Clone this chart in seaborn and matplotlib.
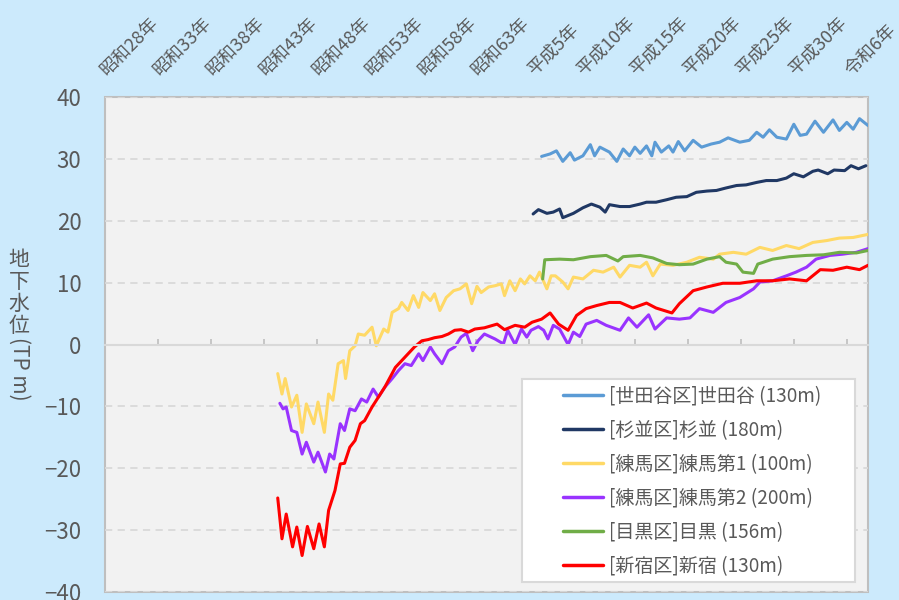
import matplotlib
matplotlib.use("Agg")
import matplotlib.pyplot as plt
import matplotlib.transforms as mtransforms
from matplotlib.patches import Rectangle
import seaborn as sns
import pandas as pd

# groundwater level per well: (year, TP m)
setagaya = [(1994.2, 30.4), (1995.0, 30.8), (1995.6, 31.3), (1996.2, 29.6), (1996.9, 31.0),
            (1997.3, 29.8), (1998.1, 30.5), (1998.8, 32.3), (1999.2, 30.5), (1999.7, 31.9),
            (2000.6, 31.1), (2001.3, 29.6), (2001.9, 31.6), (2002.5, 30.5), (2003.0, 31.9),
            (2003.5, 30.9), (2004.1, 32.1), (2004.6, 30.5), (2004.9, 32.7), (2005.5, 31.1),
            (2006.2, 32.1), (2006.6, 31.1), (2007.1, 32.8), (2007.7, 31.3), (2008.5, 33.0),
            (2009.3, 31.9), (2010.2, 32.4), (2011.0, 32.7), (2011.8, 33.4), (2012.9, 32.7),
            (2013.8, 33.0), (2014.5, 34.3), (2015.1, 33.5), (2015.7, 34.7), (2016.4, 33.5),
            (2017.3, 33.2), (2018.0, 35.6), (2018.6, 33.8), (2019.2, 34.0), (2020.0, 36.1),
            (2020.8, 34.3), (2021.7, 36.3), (2022.3, 34.6), (2023.0, 35.9), (2023.6, 34.8),
            (2024.2, 36.5), (2025.0, 35.4)]

suginami = [(1993.4, 21.1), (1993.9, 21.8), (1994.7, 21.2), (1995.3, 21.4), (1995.9, 21.9),
            (1996.2, 20.5), (1997.2, 21.2), (1998.1, 22.1), (1998.9, 22.7), (1999.7, 22.2),
            (2000.2, 21.4), (2000.6, 22.6), (2001.6, 22.3), (2002.5, 22.3), (2003.5, 22.7),
            (2004.1, 23.0), (2005.0, 23.0), (2006.0, 23.4), (2006.9, 23.8), (2007.9, 23.9),
            (2008.8, 24.6), (2009.8, 24.8), (2010.7, 24.9), (2011.6, 25.3), (2012.6, 25.7),
            (2013.5, 25.8), (2014.5, 26.2), (2015.4, 26.5), (2016.4, 26.5), (2017.3, 26.9),
            (2018.0, 27.6), (2018.9, 27.1), (2019.8, 28.0), (2020.3, 28.2), (2021.2, 27.6),
            (2021.8, 28.2), (2022.8, 28.1), (2023.4, 28.9), (2024.1, 28.4), (2024.8, 28.9)]

nerima1 = [(1969.3, -4.7), (1969.7, -8.0), (1970.0, -5.5), (1970.6, -10.1), (1971.1, -8.2),
           (1971.6, -14.2), (1972.0, -9.6), (1972.7, -12.8), (1973.1, -9.3), (1973.7, -14.2),
           (1974.1, -8.0), (1974.5, -9.0), (1975.0, -3.1), (1975.5, -2.6), (1975.7, -5.5),
           (1976.1, -1.0), (1976.6, -0.2), (1976.9, 1.7), (1977.5, 1.5), (1978.2, 2.8),
           (1978.6, -0.2), (1979.3, 2.5), (1979.7, 2.0), (1980.1, 5.2), (1980.7, 5.8),
           (1981.0, 6.8), (1981.6, 5.5), (1982.1, 7.9), (1982.6, 6.0), (1983.0, 8.4),
           (1983.7, 7.1), (1984.1, 8.2), (1984.6, 5.5), (1985.2, 7.6), (1985.9, 8.7),
           (1986.5, 9.0), (1987.1, 9.8), (1987.6, 6.6), (1988.1, 9.4), (1988.5, 8.4),
           (1989.2, 9.3), (1989.8, 9.5), (1990.4, 9.8), (1990.7, 7.9), (1991.2, 10.3),
           (1991.7, 8.7), (1992.2, 10.6), (1992.6, 9.8), (1993.1, 11.1), (1993.6, 10.3),
           (1994.0, 11.7), (1994.7, 9.0), (1995.1, 11.1), (1995.5, 11.1), (1996.2, 10.1),
           (1996.7, 9.0), (1997.2, 10.9), (1998.1, 10.6), (1999.1, 12.0), (2000.0, 11.7),
           (2001.0, 12.5), (2001.6, 10.9), (2002.5, 12.8), (2003.5, 12.5), (2004.1, 13.3),
           (2004.7, 11.1), (2005.4, 13.0), (2006.6, 12.8), (2007.9, 13.3), (2009.1, 14.1),
           (2010.4, 13.8), (2011.0, 14.6), (2012.3, 14.9), (2013.5, 14.6), (2014.8, 15.7),
           (2016.0, 15.2), (2017.3, 16.0), (2018.5, 15.5), (2019.8, 16.5), (2021.1, 16.8),
           (2022.3, 17.2), (2023.6, 17.3), (2025.0, 17.8)]

nerima2 = [(1969.5, -9.5), (1969.8, -10.4), (1970.1, -10.1), (1970.6, -13.9), (1971.1, -14.2),
           (1971.6, -17.7), (1972.0, -15.8), (1972.7, -19.0), (1973.1, -17.4), (1973.8, -20.6),
           (1974.2, -17.7), (1974.6, -18.5), (1975.2, -12.8), (1975.6, -13.9), (1976.1, -10.4),
           (1976.6, -10.7), (1977.2, -8.8), (1977.7, -9.3), (1978.3, -7.2), (1978.8, -8.5),
           (1979.4, -6.9), (1980.1, -5.5), (1980.7, -4.2), (1981.3, -3.1), (1981.9, -3.4),
           (1982.6, -1.5), (1983.0, -2.6), (1983.7, -0.4), (1984.1, -1.5), (1984.8, -3.1),
           (1985.4, -1.0), (1986.0, -0.4), (1986.6, 1.2), (1987.1, 1.8), (1987.7, -1.0),
           (1988.2, 0.6), (1988.8, 1.7), (1989.8, 0.9), (1990.6, 0.1), (1991.0, 2.3),
           (1991.7, 0.0), (1992.3, 2.5), (1992.8, 1.2), (1993.2, 2.3), (1993.9, 2.9),
           (1994.4, 2.3), (1994.8, 0.9), (1995.3, 3.1), (1995.9, 2.5), (1996.7, 0.0),
           (1997.2, 2.0), (1997.8, 1.3), (1998.4, 3.3), (1999.4, 3.9), (2000.3, 3.1),
           (2001.6, 2.3), (2002.4, 4.3), (2003.2, 2.8), (2004.3, 4.8), (2004.9, 2.5),
           (2006.0, 4.3), (2007.2, 4.1), (2008.2, 4.3), (2009.1, 5.8), (2010.4, 5.2),
           (2011.6, 6.8), (2012.9, 7.6), (2014.2, 9.0), (2014.8, 10.1), (2016.0, 10.3),
           (2017.3, 11.1), (2018.2, 11.7), (2019.2, 12.5), (2020.1, 13.8), (2021.4, 14.4),
           (2022.6, 14.6), (2023.9, 14.9), (2025.0, 15.5)]

meguro = [(1994.3, 10.6), (1994.5, 13.7), (1995.9, 13.8), (1997.2, 13.7), (1998.8, 14.2),
          (2000.3, 14.4), (2001.4, 13.5), (2001.9, 14.2), (2003.5, 14.4), (2004.7, 14.0),
          (2006.0, 13.1), (2007.2, 12.9), (2008.5, 13.0), (2009.8, 13.8), (2011.0, 14.2),
          (2011.6, 13.3), (2012.6, 13.0), (2013.2, 11.7), (2014.2, 11.5), (2014.6, 13.0),
          (2016.0, 13.8), (2017.6, 14.2), (2019.2, 14.4), (2020.8, 14.5), (2022.3, 14.9),
          (2023.9, 14.8), (2025.0, 15.2)]

shinjuku = [(1969.3, -24.8), (1969.7, -31.4), (1970.1, -27.4), (1970.7, -32.7), (1971.1, -29.5),
            (1971.6, -34.1), (1972.1, -29.4), (1972.7, -33.0), (1973.2, -29.0), (1973.7, -32.7),
            (1974.1, -26.8), (1974.7, -23.6), (1975.2, -19.3), (1975.6, -19.2), (1976.1, -16.6),
            (1976.6, -15.5), (1977.1, -12.8), (1977.5, -12.3), (1978.2, -10.1), (1978.8, -8.5),
            (1979.4, -6.9), (1979.9, -5.3), (1980.4, -3.7), (1981.0, -2.6), (1981.6, -1.5),
            (1982.2, -0.4), (1982.9, 0.6), (1983.5, 0.8), (1984.1, 1.1), (1984.8, 1.3),
            (1985.4, 1.7), (1986.0, 2.3), (1986.6, 2.4), (1987.3, 2.0), (1987.9, 2.5),
            (1988.8, 2.7), (1990.0, 3.3), (1990.7, 2.4), (1991.7, 3.1), (1992.6, 2.8),
            (1993.3, 3.6), (1994.2, 4.1), (1995.0, 5.1), (1995.8, 3.3), (1996.7, 2.3),
            (1997.5, 4.7), (1998.4, 5.8), (1999.4, 6.3), (2000.6, 6.8), (2001.6, 6.8),
            (2002.8, 5.9), (2004.1, 6.7), (2005.0, 5.9), (2006.5, 5.1), (2007.2, 6.6),
            (2008.5, 8.7), (2009.8, 9.3), (2011.3, 9.9), (2012.9, 9.9), (2014.5, 10.3),
            (2016.0, 10.3), (2017.6, 10.6), (2019.2, 10.3), (2020.5, 12.1), (2021.7, 12.0),
            (2023.0, 12.5), (2024.2, 12.1), (2025.0, 12.8)]

series_names = ["[世田谷区]世田谷 (130m)", "[杉並区]杉並 (180m)", "[練馬区]練馬第1 (100m)",
                "[練馬区]練馬第2 (200m)", "[目黒区]目黒 (156m)", "[新宿区]新宿 (130m)"]
series_data = [setagaya, suginami, nerima1, nerima2, meguro, shinjuku]
series_colors = ["#5b9bd5", "#203864", "#ffd966", "#9933ff", "#70ad47", "#ff0000"]

tick_years = list(range(1953, 2024, 5))
era_labels = ["昭和28年", "昭和33年", "昭和38年", "昭和43年", "昭和48年", "昭和53年",
              "昭和58年", "昭和63年", "平成5年", "平成10年", "平成15年", "平成20年",
              "平成25年", "平成30年", "令和6年"]
y_ticks = [40, 30, 20, 10, 0, -10, -20, -30, -40]

BG = "#cceafc"
TEXT = "#595959"

sns.set_theme(style="white")
plt.rcParams["font.family"] = ["Noto Sans CJK JP", "DejaVu Sans"]

# long-form table for seaborn
frames = []
for name, pts in zip(series_names, series_data):
    d = pd.DataFrame(pts, columns=["year", "level"])
    d["series"] = name
    frames.append(d)
df = pd.concat(frames, ignore_index=True)

fig = plt.figure(figsize=(8.99, 6.0), dpi=100, facecolor=BG)
ax = fig.add_axes([0.1168, 0.0133, 0.8487, 0.825])
ax.set_facecolor("#f2f2f2")
ax.patch.set_edgecolor("#bfbfbf")
ax.patch.set_linewidth(1.5)

sns.lineplot(data=df, x="year", y="level", hue="series", hue_order=series_names,
             palette=dict(zip(series_names, series_colors)), estimator=None,
             linewidth=2.2, ax=ax)

ax.set_xlim(1953, 2025)
ax.set_ylim(-40, 40)
ax.set_xlabel("")
ax.set_ylabel("")

# gridlines and the zero axis line
ax.set_axisbelow(True)
ax.yaxis.grid(True, linestyle=(0, (4, 3)), color="#d9d9d9", linewidth=1.3)
ax.xaxis.grid(False)
for side in ["top", "right", "left"]:
    ax.spines[side].set_visible(False)
ax.spines["bottom"].set_position(("data", 0))
ax.spines["bottom"].set_color("#d9d9d9")
ax.spines["bottom"].set_linewidth(1.5)

ax.set_yticks(y_ticks)
ax.tick_params(axis="y", length=0, pad=17, labelsize=16, labelcolor=TEXT)

# tick marks on zero line, era labels on top between the marks
ax.set_xticks(tick_years)
ax.set_xticks([t + 2 for t in tick_years], labels=era_labels, minor=True)
ax.tick_params(axis="x", which="major", bottom=True, top=False, labelbottom=False,
               labeltop=False, direction="in", length=4, width=1.2, color="#bfbfbf")
ax.tick_params(axis="x", which="minor", bottom=False, top=False, labelbottom=False,
               labeltop=True, labelrotation=45, pad=9, labelsize=13, labelcolor=TEXT)
shift = mtransforms.ScaledTranslation(0.03, 0, fig.dpi_scale_trans)
for lbl in ax.xaxis.get_minorticklabels():
    lbl.set_transform(lbl.get_transform() + shift)

# legend on a white box
leg = ax.get_legend()
handles = leg.legend_handles
labels = [t.get_text() for t in leg.get_texts()]
leg.remove()
for h in handles:
    h.set_linewidth(2.5)
box = Rectangle((0.5465, 0.0202), 0.4365, 0.410, transform=ax.transAxes,
                facecolor="white", edgecolor="#d9d9d9", linewidth=1.5, zorder=5)
ax.add_patch(box)
new_leg = ax.legend(handles, labels, loc="upper left", bbox_to_anchor=(0.600, 0.416),
                    frameon=False, borderpad=0, borderaxespad=0, fontsize=13.7,
                    handlelength=2.1, handletextpad=0.32, labelspacing=0.68,
                    labelcolor=TEXT)
new_leg.set_zorder(6)

# stacked vertical axis title
fig.text(0.021, 0.585, "地\n下\n水\n位", ha="center", va="top", fontsize=15,
         color=TEXT, linespacing=1.0)
fig.text(0.021, 0.385, "(TP m)", ha="center", va="center", rotation=-90,
         fontsize=15, color=TEXT)

fig.savefig("out.png", dpi=100, facecolor=BG)
